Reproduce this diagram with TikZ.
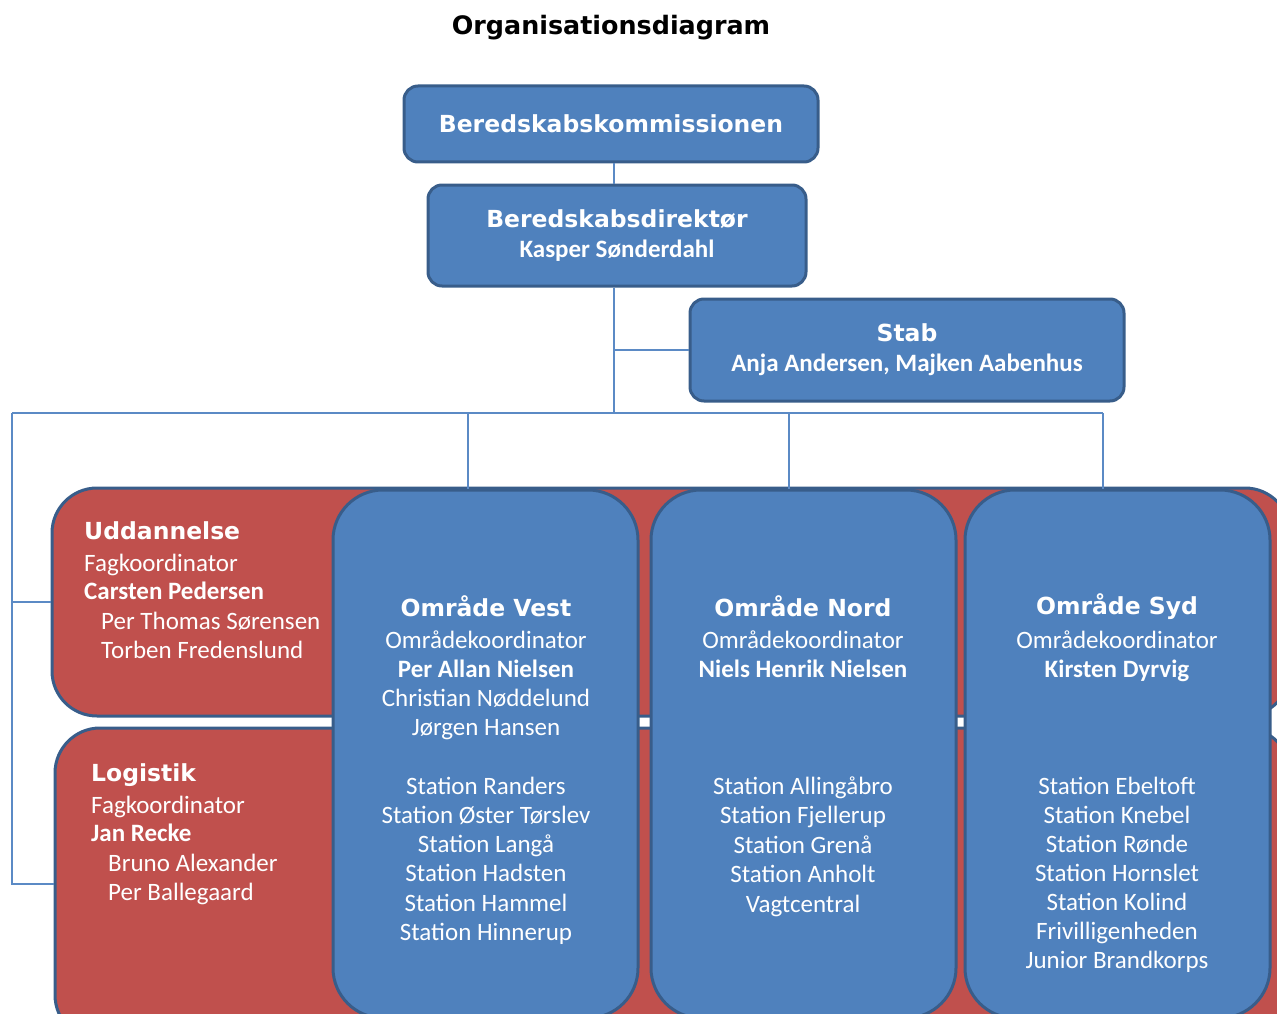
\documentclass[tikz,border=0pt]{standalone}
\usepackage{fontspec}
\setmainfont{Carlito}
\newfontfamily\verdfont{DejaVu Sans}
\newcommand\headtxt{\verdfont\bfseries\fontsize{23.5}{28}\selectfont}
\newcommand\nametxt{\bfseries\fontsize{25}{29}\selectfont}
\definecolor{boxblue}{HTML}{4F81BD}
\definecolor{boxred}{HTML}{C0504D}
\definecolor{edgeblue}{HTML}{385D8A}
\definecolor{linkblue}{HTML}{5B8AC5}
\begin{document}
\begin{tikzpicture}[x=1pt,y=-1pt,
    topbox/.style={draw=edgeblue,line width=3pt,fill=boxblue,rounded corners=14pt,text=white,align=center,inner sep=0pt},
    band/.style={draw=edgeblue,line width=3pt,fill=boxred,rounded corners=45pt,inner sep=0pt},
    area/.style={draw=edgeblue,line width=3pt,fill=boxblue,rounded corners=50pt,inner sep=0pt},
    link/.style={draw=linkblue,line width=1.8pt},
    head/.style={text=white,font=\headtxt,text height=17pt,text depth=0pt,inner sep=0pt},
    txt/.style={text=white,font=\fontsize{25}{29}\selectfont,text height=16pt,text depth=0pt,inner sep=0pt}]
                \useasboundingbox (0,0) rectangle (1277,1014);
                \node[font=\verdfont\bfseries\fontsize{25.4}{30}\selectfont] (title) at (611,28) {Organisationsdiagram};
                \node[topbox,minimum width=414pt,minimum height=76pt] (komm) at (611,124) {\headtxt Beredskabskommissionen};
                \node[topbox,minimum width=378pt,minimum height=101pt] (dir) at (617,235.5) {\headtxt Beredskabsdirektør\\[11pt]\nametxt Kasper Sønderdahl};
                \node[topbox,minimum width=434pt,minimum height=102pt] (stab) at (907,350) {\headtxt Stab\\[11pt]\nametxt Anja Andersen, Majken Aabenhus};
                \node[band,minimum width=1238pt,minimum height=228pt] (udd) at (671,602) {};
                \node[band,minimum width=1235pt,minimum height=312pt] (logi) at (672.5,884) {};
                \node[area,minimum width=305pt,minimum height=528pt] (vest) at (485.5,754) {};
                \node[area,minimum width=305pt,minimum height=528pt] (nord) at (803.5,754) {};
                \node[area,minimum width=305pt,minimum height=528pt] (syd) at (1117.5,754) {};
                \node[head,anchor=west] (udd-h) at (84,531) {Uddannelse};
                \node[txt,anchor=west] (udd-1) at (84,563) {Fagkoordinator};
                \node[txt,anchor=west] (udd-2) at (84,591) {\bfseries Carsten Pedersen};
                \node[txt,anchor=west] (udd-3) at (101,621) {Per Thomas Sørensen};
                \node[txt,anchor=west] (udd-4) at (101,650) {Torben Fredenslund};
                \node[head,anchor=west] (logi-h) at (91,773) {Logistik};
                \node[txt,anchor=west] (logi-1) at (91,805) {Fagkoordinator};
                \node[txt,anchor=west] (logi-2) at (91,833) {\bfseries Jan Recke};
                \node[txt,anchor=west] (logi-3) at (108,863) {Bruno Alexander};
                \node[txt,anchor=west] (logi-4) at (108,892) {Per Ballegaard};
                \node[head] (vest-h) at (486,608) {Område Vest};
                \foreach \t [count=\i] in {Områdekoordinator,{\bfseries Per Allan Nielsen},Christian Nøddelund,Jørgen Hansen}
                    \node[txt] (vest-\i) at (486,{611+29*\i}) {\t};
                \foreach \t [count=\i] in {Station Randers,Station Øster Tørslev,Station Langå,Station Hadsten,Station Hammel,Station Hinnerup}
                    \node[txt] (vest-st\i) at (486,{757+29.2*\i}) {\t};
                \node[head] (nord-h) at (803,608) {Område Nord};
                \foreach \t [count=\i] in {Områdekoordinator,{\bfseries Niels Henrik Nielsen}}
                    \node[txt] (nord-\i) at (803,{611+29*\i}) {\t};
                \foreach \t [count=\i] in {Station Allingåbro,Station Fjellerup,Station Grenå,Station Anholt,Vagtcentral}
                    \node[txt] (nord-st\i) at (803,{757+29.4*\i}) {\t};
                \node[head] (syd-h) at (1117,606) {Område Syd};
                \foreach \t [count=\i] in {Områdekoordinator,{\bfseries Kirsten Dyrvig}}
                    \node[txt] (syd-\i) at (1117,{611+29*\i}) {\t};
                \foreach \t [count=\i] in {Station Ebeltoft,Station Knebel,Station Rønde,Station Hornslet,Station Kolind,Frivilligenheden,Junior Brandkorps}
                    \node[txt] (syd-st\i) at (1117,{757+29*\i}) {\t};
                \coordinate (hub) at (614,413);
                \coordinate (bus-w) at (12,413);
                \coordinate (bus-e) at (1103,413);
                \coordinate (drop-v) at (468,413);
                \coordinate (drop-n) at (789,413);
                \draw[link] (komm.south -| hub) -- (dir.north -| hub);
                \draw[link] (dir.south -| hub) -- (hub);
                \draw[link] (hub |- stab.west) -- (stab.west);
                \draw[link] (bus-w) -- (bus-e);
                \draw[link] (drop-v) -- (drop-v |- vest.north);
                \draw[link] (drop-n) -- (drop-n |- nord.north);
                \draw[link] (bus-e) -- (bus-e |- syd.north);
                \draw[link] (bus-w) |- (udd.west);
                \draw[link] (bus-w) |- (logi.west);
            \end{tikzpicture}
\end{document}
